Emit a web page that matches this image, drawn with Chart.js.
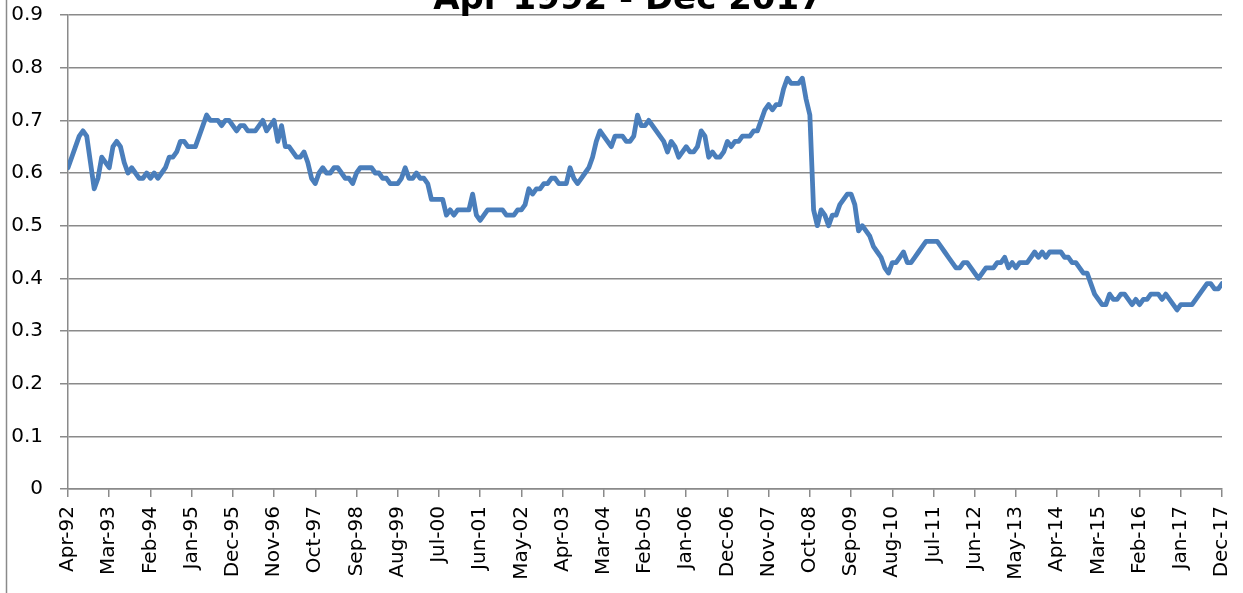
<!DOCTYPE html>
<html><head><meta charset="utf-8">
<script src="https://cdn.jsdelivr.net/npm/chart.js@4/dist/chart.umd.min.js"></script>
<style>html,body{margin:0;padding:0;background:#fff}#wrap{position:relative;width:1243px;height:593px}</style>
</head><body><div id="wrap"><canvas id="c"></canvas></div>
<script>
const chartTitle = 'Apr 1992 - Dec 2017';
const monthNames = ['Jan','Feb','Mar','Apr','May','Jun','Jul','Aug','Sep','Oct','Nov','Dec'];
const startYear = 1992;
const startMonthIndex = 3; // April
const tickEvery = 11;
const yMin = 0, yMax = 0.9, yStep = 0.1;

// monthly values, Apr-92 onwards
const vals1992_1995 = [0.61,0.63,0.65,0.67,0.68,0.67,0.62,0.57,0.59,0.63,0.62,0.61,0.65,0.66,0.65,0.62,0.60,0.61,0.60,0.59,0.59,0.60,0.59,0.60,0.59,0.60,0.61,0.63,0.63,0.64,0.66,0.66,0.65,0.65,0.65,0.67,0.69,0.71];
const vals1995_1998 = [0.70,0.70,0.70,0.69,0.70,0.70,0.69,0.68,0.69,0.69,0.68,0.68,0.68,0.69,0.70,0.68,0.69,0.70,0.66,0.69,0.65,0.65,0.64,0.63,0.63,0.64,0.62,0.59,0.58,0.60,0.61,0.60,0.60,0.61,0.61,0.60,0.59,0.59];
const vals1998_2001 = [0.58,0.60,0.61,0.61,0.61,0.61,0.60,0.60,0.59,0.59,0.58,0.58,0.58,0.59,0.61,0.59,0.59,0.60,0.59,0.59,0.58,0.55,0.55,0.55,0.55,0.52,0.53,0.52,0.53,0.53,0.53,0.53,0.56,0.52,0.51,0.52,0.53];
const vals2001_2004 = [0.53,0.53,0.53,0.53,0.52,0.52,0.52,0.53,0.53,0.54,0.57,0.56,0.57,0.57,0.58,0.58,0.59,0.59,0.58,0.58,0.58,0.61,0.59,0.58,0.59,0.60,0.61,0.63,0.66,0.68,0.67,0.66,0.65,0.67,0.67,0.67,0.66,0.66];
const vals2004_2007 = [0.67,0.71,0.69,0.69,0.70,0.69,0.68,0.67,0.66,0.64,0.66,0.65,0.63,0.64,0.65,0.64,0.64,0.65,0.68,0.67,0.63,0.64,0.63,0.63,0.64,0.66,0.65,0.66,0.66,0.67,0.67,0.67,0.68,0.68,0.70,0.72,0.73,0.72,0.73];
const vals2007_2011 = [0.73,0.76,0.78,0.77,0.77,0.77,0.78,0.74,0.71,0.53,0.50,0.53,0.52,0.50,0.52,0.52,0.54,0.55,0.56,0.56,0.54,0.49,0.50,0.49,0.48,0.46,0.45,0.44,0.42,0.41,0.43,0.43,0.44,0.45,0.43,0.43,0.44,0.45];
const vals2011_2014 = [0.46,0.47,0.47,0.47,0.47,0.46,0.45,0.44,0.43,0.42,0.42,0.43,0.43,0.42,0.41,0.40,0.41,0.42,0.42,0.42,0.43,0.43,0.44,0.42,0.43,0.42,0.43,0.43,0.43,0.44,0.45,0.44,0.45,0.44,0.45,0.45,0.45,0.45,0.44,0.44];
const vals2014_2017 = [0.43,0.43,0.42,0.41,0.41,0.39,0.37,0.36,0.35,0.35,0.37,0.36,0.36,0.37,0.37,0.36,0.35,0.36,0.35,0.36,0.36,0.37,0.37,0.37,0.36,0.37,0.36,0.35,0.34,0.35,0.35,0.35,0.35,0.36,0.37,0.38,0.39,0.39,0.38,0.38,0.39];

const series = [].concat(vals1992_1995, vals1995_1998, vals1998_2001, vals2001_2004, vals2004_2007, vals2007_2011, vals2011_2014, vals2014_2017);
const categories = series.map((_, i) => {
  const m = startMonthIndex + i;
  return monthNames[m % 12] + '-' + String((startYear + Math.floor(m / 12)) % 100).padStart(2, '0');
});

const GRID = '#8a8a8a';
const FONT = '"DejaVu Sans", sans-serif';

const framePlugin = {
  id: 'frameAndTitle',
  afterDraw(chart) {
    const ctx = chart.ctx;
    ctx.save();
    ctx.strokeStyle = GRID;
    ctx.lineWidth = 1.5;
    ctx.beginPath();
    ctx.moveTo(6.5, 0);
    ctx.lineTo(6.5, chart.height);
    ctx.stroke();
    ctx.fillStyle = '#000';
    ctx.font = 'bold 34px ' + FONT;
    ctx.textAlign = 'center';
    ctx.textBaseline = 'alphabetic';
    ctx.fillText(chartTitle, 628, 9);
    ctx.restore();
  }
};

function noOverhang(s) {
  s.paddingTop = 0; s.paddingBottom = 0; s.paddingLeft = 0; s.paddingRight = 0;
}

new Chart(document.getElementById('c'), {
  type: 'line',
  data: {
    datasets: [{
      data: series.map((v, i) => ({x: i, y: v})),
      borderColor: '#4a7ebb',
      borderWidth: 4.8,
      pointRadius: 0,
      tension: 0,
      borderJoinStyle: 'round',
      borderCapStyle: 'round',
      fill: false
    }]
  },
  options: {
    responsive: true,
    maintainAspectRatio: false,
    animation: false,
    layout: {padding: {top: 15, right: 21, left: 0, bottom: 0}},
    plugins: {legend: {display: false}, tooltip: {enabled: false}, title: {display: false}},
    scales: {
      x: {
        type: 'linear',
        min: 0,
        max: categories.length - 1,
        afterFit(s) { s.height = 104; noOverhang(s); },
        ticks: {
          stepSize: tickEvery,
          autoSkip: false,
          minRotation: 90,
          maxRotation: 90,
          padding: 9,
          color: '#000',
          font: {family: FONT, size: 20},
          callback: v => categories[v]
        },
        grid: {drawOnChartArea: false, drawTicks: true, tickLength: 8, color: GRID, lineWidth: 1.5},
        border: {display: true, color: GRID, width: 1.5}
      },
      y: {
        min: yMin,
        max: yMax,
        afterFit(s) { s.width = 68; noOverhang(s); },
        ticks: {stepSize: yStep, padding: 17, color: '#000', font: {family: FONT, size: 20}},
        grid: {color: GRID, lineWidth: 1.5, tickLength: 8},
        border: {display: true, color: GRID, width: 1.5}
      }
    }
  },
  plugins: [framePlugin]
});
</script>
</body></html>
